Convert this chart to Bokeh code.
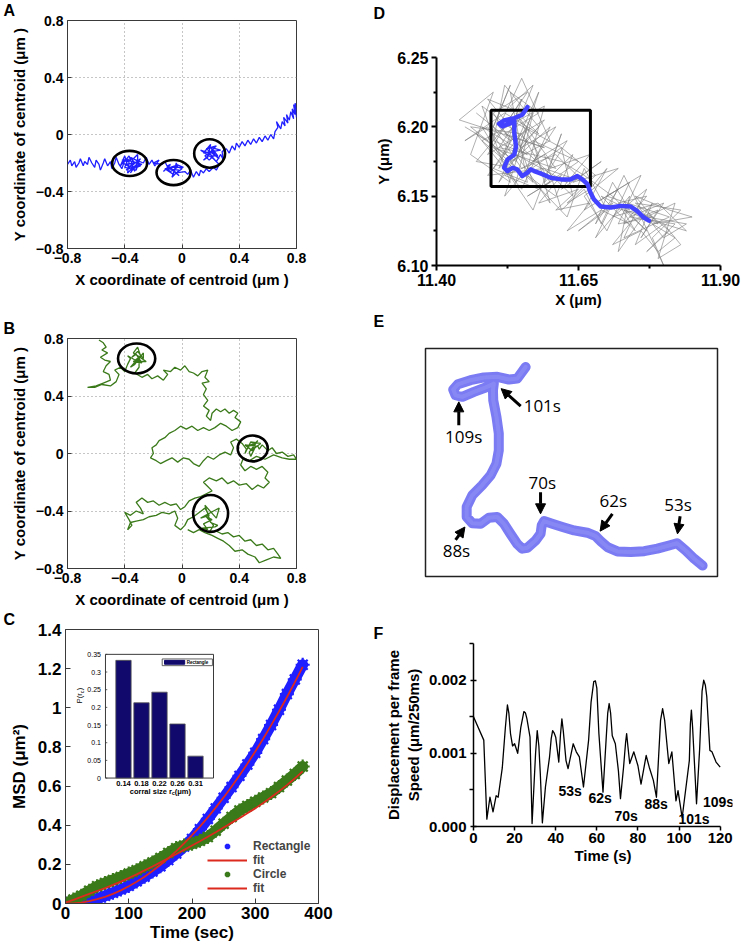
import math
from bokeh.plotting import figure
from bokeh.layouts import row, column
from bokeh.models import (Range1d, FixedTicker, Title, LabelSet, ColumnDataSource,
                          Legend, LegendItem, Arrow, NormalHead, NumeralTickFormatter)
from bokeh.core.properties import value
from bokeh.embed import file_html
from bokeh.resources import INLINE

FONT = "Liberation Sans"

# ---------------- data ----------------
AB_ticks = [-0.8, -0.4, 0.0, 0.4, 0.8]
AB_tick_labels = {-0.8: "\u22120.8", -0.4: "\u22120.4", 0.0: "0", 0.4: "0.4", 0.8: "0.8"}

A_path = [(-0.80,-0.21),(-0.78,-0.18),(-0.77,-0.22),(-0.75,-0.19),(-0.74,-0.23),(-0.72,-0.20),(-0.71,-0.17),
          (-0.69,-0.22),(-0.68,-0.19),(-0.66,-0.21),(-0.65,-0.16),(-0.63,-0.20),(-0.61,-0.23),(-0.60,-0.18),
          (-0.58,-0.21),(-0.57,-0.25),(-0.55,-0.20),(-0.54,-0.17),(-0.52,-0.22),(-0.50,-0.19),(-0.49,-0.24),
          (-0.47,-0.20),(-0.46,-0.16),(-0.44,-0.21),
          (-0.42,-0.24),(-0.40,-0.18),(-0.43,-0.22),(-0.40,-0.15),(-0.38,-0.22),(-0.41,-0.20),(-0.37,-0.15),
          (-0.33,-0.26),(-0.35,-0.21),(-0.39,-0.25),(-0.29,-0.17),(-0.36,-0.27),(-0.33,-0.22),(-0.38,-0.27),
          (-0.37,-0.19),(-0.42,-0.18),(-0.34,-0.17),(-0.31,-0.14),(-0.31,-0.20),(-0.35,-0.25),(-0.35,-0.23),
          (-0.28,-0.21),(-0.38,-0.18),(-0.40,-0.23),(-0.32,-0.25),(-0.30,-0.19),(-0.36,-0.16),(-0.33,-0.20),
          (-0.39,-0.21),(-0.34,-0.24),(-0.29,-0.22),(-0.32,-0.18),
          (-0.27,-0.20),(-0.25,-0.16),(-0.23,-0.21),(-0.21,-0.18),(-0.19,-0.22),(-0.16,-0.18),(-0.20,-0.20),
          (-0.14,-0.21),(-0.12,-0.19),(-0.10,-0.23),
          (-0.13,-0.26),(-0.08,-0.21),(-0.10,-0.22),(-0.06,-0.25),(-0.02,-0.29),(-0.09,-0.23),(0.01,-0.23),
          (-0.04,-0.21),(-0.07,-0.30),(-0.02,-0.25),(-0.12,-0.24),(-0.06,-0.28),(-0.04,-0.20),(-0.03,-0.23),
          (-0.08,-0.26),(-0.11,-0.24),(-0.05,-0.22),(0.00,-0.24),(-0.04,-0.27),(0.02,-0.26),
          (0.04,-0.28),(0.06,-0.25),(0.08,-0.30),(0.10,-0.26),(0.12,-0.29),(0.13,-0.25),(0.15,-0.27),
          (0.17,-0.24),(0.19,-0.26),(0.22,-0.23),(0.24,-0.25),(0.26,-0.21),
          (0.22,-0.17),(0.13,-0.11),(0.19,-0.13),(0.24,-0.08),(0.17,-0.10),(0.26,-0.17),(0.21,-0.12),
          (0.15,-0.18),(0.18,-0.16),(0.20,-0.07),(0.15,-0.13),(0.27,-0.11),(0.20,-0.09),(0.23,-0.14),
          (0.19,-0.18),(0.16,-0.15),(0.22,-0.11),(0.25,-0.15),(0.21,-0.15),(0.18,-0.12),
          (0.24,-0.19),(0.27,-0.14),(0.29,-0.18),(0.28,-0.12),
          (0.31,-0.10),(0.33,-0.13),(0.35,-0.08),(0.37,-0.11),(0.38,-0.06),(0.40,-0.09),(0.42,-0.05),
          (0.44,-0.08),(0.46,-0.04),(0.48,-0.07),(0.50,-0.03),(0.52,-0.06),(0.54,-0.02),(0.56,-0.05),
          (0.58,-0.01),(0.60,-0.04),(0.62,0.00),(0.64,-0.03),(0.65,0.02),
          (0.67,0.05),(0.66,0.09),(0.69,0.04),(0.70,0.09),(0.72,0.06),(0.71,0.12),(0.74,0.08),(0.73,0.14),
          (0.75,0.10),(0.76,0.16),(0.78,0.11),(0.77,0.18),(0.79,0.14),(0.78,0.21),(0.80,0.17),(0.79,0.22),
          (0.80,0.12)]
A_circ_x = [-0.366, -0.059, 0.193]
A_circ_y = [-0.203, -0.267, -0.133]
A_circ_w = [0.244, 0.238, 0.216]
A_circ_h = [0.176, 0.176, 0.200]

B_path = [(-0.58,0.79),(-0.55,0.77),(-0.53,0.74),(-0.56,0.72),(-0.52,0.70),(-0.57,0.67),(-0.54,0.65),
          (-0.50,0.64),(-0.53,0.61),(-0.55,0.57),(-0.51,0.55),(-0.50,0.51),(-0.55,0.49),(-0.60,0.47),
          (-0.66,0.46),(-0.61,0.46),(-0.56,0.48),(-0.50,0.47),(-0.46,0.50),(-0.44,0.55),(-0.47,0.58),
          (-0.43,0.60),(-0.40,0.57),(-0.38,0.62),(-0.36,0.66),(-0.38,0.68),(-0.31,0.64),(-0.25,0.64),
          (-0.34,0.70),(-0.31,0.74),(-0.29,0.68),(-0.36,0.60),(-0.33,0.62),(-0.27,0.70),(-0.27,0.66),
          (-0.31,0.71),(-0.35,0.67),(-0.32,0.69),(-0.28,0.63),(-0.34,0.64),
          (-0.30,0.67),(-0.30,0.60),(-0.33,0.56),(-0.28,0.53),
          (-0.24,0.55),(-0.21,0.52),(-0.17,0.54),(-0.13,0.51),(-0.10,0.55),(-0.13,0.58),(-0.08,0.57),
          (-0.05,0.60),(-0.01,0.58),(0.02,0.61),(0.05,0.57),(0.08,0.56),(0.11,0.54),(0.14,0.57),
          (0.18,0.58),(0.16,0.53),(0.19,0.50),(0.14,0.49),(0.17,0.45),(0.15,0.41),(0.18,0.37),
          (0.15,0.33),(0.19,0.30),(0.17,0.26),(0.20,0.23),(0.21,0.28),(0.24,0.31),(0.27,0.29),
          (0.30,0.31),(0.33,0.28),(0.36,0.30),(0.39,0.28),(0.37,0.25),(0.41,0.22),(0.39,0.18),
          (0.35,0.16),(0.31,0.19),(0.27,0.21),(0.23,0.18),(0.19,0.16),(0.15,0.18),(0.11,0.16),
          (0.07,0.19),(0.03,0.17),(-0.01,0.19),(-0.05,0.16),(-0.09,0.14),(-0.12,0.11),(-0.16,0.09),
          (-0.18,0.06),(-0.21,0.04),(-0.20,0.00),(-0.22,-0.03),(-0.18,-0.05),(-0.15,-0.07),(-0.11,-0.05),
          (-0.07,-0.03),(-0.03,-0.06),(0.01,-0.03),(0.05,-0.04),(0.08,-0.07),(0.12,-0.09),(0.15,-0.05),
          (0.18,-0.02),(0.22,-0.04),(0.26,-0.01),(0.30,0.01),(0.34,-0.01),(0.36,0.04),(0.34,0.08),
          (0.38,0.10),(0.42,0.07),(0.45,0.03),(0.44,0.00),(0.48,0.08),(0.55,0.07),(0.51,0.04),
          (0.48,-0.02),(0.47,0.01),(0.53,0.09),(0.50,0.06),
          (0.46,0.05),(0.52,0.08),(0.49,0.02),(0.44,0.06),(0.53,0.05),
          (0.54,0.03),(0.56,0.06),(0.60,0.02),(0.63,0.04),(0.66,0.00),(0.70,0.01),(0.74,-0.02),
          (0.78,-0.01),(0.80,-0.04),(0.75,-0.04),(0.70,-0.03),(0.64,-0.01),(0.58,-0.04),(0.52,-0.02),
          (0.47,-0.05),(0.43,-0.03),(0.41,-0.08),(0.44,-0.12),(0.48,-0.09),(0.52,-0.11),(0.56,-0.09),
          (0.60,-0.13),(0.58,-0.17),(0.61,-0.20),(0.57,-0.24),(0.53,-0.22),(0.49,-0.25),(0.45,-0.21),
          (0.40,-0.22),(0.36,-0.19),(0.32,-0.21),(0.28,-0.17),(0.24,-0.19),(0.19,-0.17),(0.15,-0.20),
          (0.18,-0.23),(0.21,-0.26),(0.17,-0.28),(0.13,-0.30),(0.09,-0.31),(0.05,-0.33),(0.02,-0.37),
          (-0.01,-0.39),(-0.04,-0.35),(-0.08,-0.36),(-0.12,-0.34),(-0.16,-0.36),(-0.20,-0.33),(-0.24,-0.34),
          (-0.28,-0.31),(-0.32,-0.34),(-0.29,-0.38),(-0.27,-0.42),(-0.32,-0.40),(-0.36,-0.43),(-0.40,-0.41),
          (-0.37,-0.46),(-0.35,-0.50),(-0.38,-0.53),(-0.36,-0.48),(-0.32,-0.47),(-0.27,-0.46),(-0.23,-0.44),
          (-0.18,-0.43),(-0.14,-0.41),(-0.09,-0.42),(-0.05,-0.40),(-0.03,-0.45),(-0.05,-0.50),(-0.01,-0.53),
          (0.02,-0.50),(0.04,-0.46),(0.08,-0.44),(0.12,-0.41),(0.16,-0.38),(0.19,-0.43),(0.13,-0.45),
          (0.22,-0.40),(0.26,-0.38),(0.24,-0.45),(0.16,-0.36),(0.20,-0.48),(0.25,-0.50),(0.23,-0.51),
          (0.14,-0.52),(0.18,-0.53),(0.15,-0.49),(0.21,-0.46),(0.17,-0.44),
          (0.22,-0.50),(0.19,-0.55),(0.24,-0.54),
          (0.28,-0.56),(0.32,-0.55),(0.36,-0.58),(0.40,-0.57),(0.44,-0.61),(0.48,-0.60),(0.52,-0.64),
          (0.56,-0.63),(0.60,-0.67),(0.64,-0.66),(0.67,-0.70),(0.69,-0.73),(0.64,-0.72),(0.59,-0.74),
          (0.54,-0.76),(0.51,-0.72),(0.46,-0.70),(0.42,-0.67),(0.37,-0.68),(0.33,-0.64),(0.29,-0.61),
          (0.25,-0.59),(0.21,-0.57),(0.16,-0.55),(0.12,-0.53),(0.08,-0.55),(0.04,-0.53)]
B_circ_x = [-0.317, 0.494, 0.200]
B_circ_y = [0.661, 0.035, -0.417]
B_circ_w = [0.26, 0.21, 0.244]
B_circ_h = [0.208, 0.18, 0.256]

C_t = [0, 12.5, 25, 37.5, 50, 62.5, 75, 87.5, 100, 112.5, 125, 137.5, 150, 162.5, 175, 187.5, 200,
       212.5, 225, 237.5, 250, 262.5, 275, 287.5, 300, 312.5, 325, 337.5, 350, 362.5, 375]
C_rect = [0.000, 0.002, 0.007, 0.015, 0.025, 0.039, 0.055, 0.072, 0.090, 0.113, 0.137, 0.163, 0.190,
          0.222, 0.255, 0.291, 0.330, 0.380, 0.432, 0.486, 0.540, 0.595, 0.652, 0.710, 0.770, 0.840,
          0.912, 0.990, 1.070, 1.145, 1.220]
C_rect_fit = [0.000, 0.001, 0.005, 0.012, 0.022, 0.034, 0.049, 0.067, 0.088, 0.111, 0.137, 0.166,
              0.197, 0.231, 0.268, 0.307, 0.349, 0.393, 0.440, 0.490, 0.542, 0.597, 0.654, 0.714,
              0.777, 0.842, 0.910, 0.981, 1.054, 1.130, 1.209]
C_circ = [0.000, 0.020, 0.040, 0.065, 0.088, 0.105, 0.120, 0.136, 0.153, 0.170, 0.190, 0.210, 0.232,
          0.258, 0.283, 0.296, 0.305, 0.320, 0.340, 0.372, 0.408, 0.442, 0.475, 0.498, 0.520, 0.542,
          0.564, 0.595, 0.628, 0.662, 0.700]
C_circ_fit = [0.005, 0.019, 0.034, 0.049, 0.064, 0.079, 0.095, 0.112, 0.130, 0.149, 0.169, 0.189,
              0.210, 0.231, 0.252, 0.274, 0.296, 0.318, 0.341, 0.364, 0.388, 0.412, 0.436, 0.461,
              0.486, 0.514, 0.543, 0.573, 0.605, 0.639, 0.675]
C_xticks = [0, 100, 200, 300, 400]
C_yticks = [0, 0.2, 0.4, 0.6, 0.8, 1.0, 1.2, 1.4]
C_ytick_labels = ["0", "0.2", "0.4", "0.6", "0.8", "1", "1.2", "1.4"]

inset_cats = ["0.14", "0.18", "0.22", "0.26", "0.31"]
inset_vals = [0.333, 0.213, 0.243, 0.153, 0.062]
inset_yticks = [0, 0.05, 0.1, 0.15, 0.2, 0.25, 0.3, 0.35]
inset_ytick_labels = ["0", "0.05", "0.1", "0.15", "0.2", "0.25", "0.3", "0.35"]

D_xticks = [11.40, 11.65, 11.90]
D_xminor = [11.525, 11.775]
D_yticks = [6.10, 6.15, 6.20, 6.25]
D_yminor = [6.125, 6.175, 6.225]
D_gray = [(11.47,6.21),(11.53,6.19),(11.49,6.18),(11.55,6.22),(11.51,6.17),(11.58,6.20),(11.52,6.23),
          (11.50,6.19),(11.56,6.18),(11.48,6.20),(11.54,6.16),(11.57,6.21),(11.53,6.175),(11.60,6.19),
          (11.55,6.235),(11.51,6.20),(11.59,6.17),(11.49,6.165),(11.56,6.20),(11.52,6.15),(11.58,6.18),
          (11.54,6.21),(11.61,6.17),(11.50,6.185),(11.57,6.16),(11.53,6.205),(11.62,6.185),(11.55,6.165),
          (11.48,6.19),(11.59,6.215),(11.56,6.17),(11.63,6.16),(11.54,6.18),(11.60,6.145),(11.57,6.19),
          (11.65,6.175),(11.58,6.155),(11.52,6.165),(11.61,6.18),(11.66,6.16),(11.59,6.17),(11.64,6.15),
          (11.62,6.185),(11.68,6.165),(11.63,6.145),(11.67,6.155),(11.70,6.17),(11.66,6.14),(11.72,6.155),
          (11.68,6.13),(11.71,6.16),(11.74,6.14),(11.69,6.15),(11.75,6.125),(11.72,6.145),(11.77,6.15),
          (11.73,6.13),(11.79,6.14),(11.76,6.12),(11.80,6.145),(11.74,6.135),(11.82,6.13),(11.77,6.11),
          (11.81,6.125),(11.75,6.145),(11.83,6.14),(11.78,6.12),(11.80,6.10),(11.76,6.135),(11.84,6.125),
          (11.79,6.145),(11.71,6.135),(11.77,6.155),(11.73,6.12),(11.81,6.135),(11.70,6.15),(11.76,6.165),
          (11.72,6.13),(11.78,6.135),(11.68,6.145),(11.74,6.16),(11.70,6.125),(11.66,6.15),(11.72,6.17),
          (11.64,6.16),(11.69,6.175),(11.62,6.155),(11.67,6.18),(11.60,6.17),(11.63,6.19),(11.57,6.175),
          (11.61,6.20),(11.55,6.185),(11.59,6.205),(11.53,6.19),(11.50,6.21),(11.56,6.225),(11.51,6.195),
          (11.47,6.175),(11.54,6.17),(11.49,6.20),(11.45,6.19),(11.52,6.21),(11.58,6.195),(11.53,6.215),
          (11.57,6.23),(11.52,6.18),(11.46,6.20),(11.55,6.195),(11.60,6.16),(11.56,6.15),(11.62,6.165),
          (11.58,6.145),(11.65,6.155),(11.61,6.14),(11.67,6.145),(11.63,6.125),(11.69,6.14),(11.74,6.13),
          (11.71,6.115),(11.76,6.125),(11.79,6.11),(11.82,6.12),(11.78,6.13),(11.85,6.135),(11.81,6.14),
          (11.75,6.15),(11.79,6.13),(11.73,6.14),(11.77,6.125),(11.71,6.15),(11.66,6.165),(11.62,6.175),
          (11.57,6.18),(11.51,6.185),(11.55,6.21),(11.49,6.22),(11.54,6.195),(11.50,6.17),(11.56,6.16),
          (11.53,6.225),(11.58,6.21),(11.52,6.195),(11.59,6.185),
          (11.44,6.205),(11.50,6.225),(11.46,6.18),(11.53,6.16),(11.48,6.215),(11.56,6.19),(11.51,6.16),
          (11.58,6.225),(11.54,6.175),(11.47,6.195),(11.55,6.155),(11.60,6.20),(11.52,6.17),(11.57,6.14),
          (11.62,6.195),(11.59,6.16),(11.64,6.18),(11.61,6.15),(11.56,6.165),(11.63,6.135),(11.66,6.17),
          (11.70,6.14),(11.65,6.125),(11.71,6.145),(11.68,6.12),(11.74,6.15),(11.72,6.11),(11.78,6.145),
          (11.75,6.115),(11.80,6.13),(11.83,6.115),(11.79,6.105),(11.82,6.145),(11.77,6.135),(11.84,6.13),
          (11.80,6.12),(11.76,6.14),(11.73,6.165),(11.69,6.13),(11.66,6.155),(11.62,6.14),(11.59,6.18),
          (11.55,6.17),(11.50,6.20),(11.53,6.23),(11.49,6.19),(11.45,6.20)]
D_blue = [(11.560,6.2142),(11.551,6.2087),(11.537,6.2063),(11.519,6.2046),(11.510,6.2022),(11.516,6.2003),
          (11.531,6.2027),(11.537,6.2040),(11.537,6.1955),(11.540,6.1860),(11.537,6.1800),(11.525,6.1764),
          (11.519,6.1705),(11.525,6.1680),(11.534,6.1705),(11.542,6.1693),(11.551,6.1645),(11.560,6.1669),
          (11.566,6.1693),(11.572,6.1681),(11.583,6.1664),(11.601,6.1633),(11.619,6.1621),(11.636,6.1621),
          (11.648,6.1645),(11.657,6.1621),(11.666,6.1585),(11.671,6.1526),(11.677,6.1478),(11.689,6.1425),
          (11.707,6.1418),(11.724,6.1430),(11.742,6.1425),(11.753,6.1394),(11.765,6.1346),(11.774,6.1323)]
D_box_x = [11.496, 11.671]
D_box_y = [6.157, 6.212]

E_path = [(94.9,4.8),(92.0,7.8),(89.1,11.4),(86.1,14.6),(83.4,13.6),(79.4,12.2),(74.9,11.1),(70.3,10.7),
          (65.7,11.0),(62.3,12.9),(60.0,15.5),(58.3,17.7),(55.4,19.2),(50.9,20.2),(46.9,21.7),(43.4,23.1),
          (40.6,24.3),(39.8,22.4),(39.4,18.7),(37.7,15.8),(34.9,12.6),(33.1,12.2),(31.4,14.3),(29.1,18.7),
          (26.9,23.1),(24.6,26.1),(21.7,25.8),(18.9,23.1),(16.0,23.4),(14.1,26.1),(14.1,30.5),(16.0,35.6),
          (19.4,40.0),(22.3,44.4),(24.3,49.5),(25.1,55.3),(25.1,62.7),(24.3,70.0),(23.2,77.3),(23.1,81.7),
          (23.4,84.6),(20.6,82.9),(16.6,81.0),(12.6,78.8),(10.3,79.5),(9.5,82.0),(11.1,84.3),(15.4,86.1),
          (20.0,87.3),(24.6,87.6),(28.6,86.4),(31.4,86.8),(34.3,91.9)]
E_labels = ["109s", "101s", "70s", "62s", "53s", "88s"]
E_lab_x = [13.1, 40.0, 40.0, 64.3, 86.5, 10.6]
E_lab_y = [61.2, 75.1, 41.4, 33.4, 31.6, 11.4]
E_arrow_x0 = [11.4, 32.6, 39.4, 64.0, 87.2, 10.3]
E_arrow_y0 = [66.3, 74.7, 37.0, 27.5, 26.4, 16.1]
E_arrow_x1 = [11.4, 25.9, 39.4, 59.8, 86.3, 13.5]
E_arrow_y1 = [76.6, 82.4, 27.5, 19.9, 18.7, 21.7]

F_t = [0, 5, 5.8, 6.5, 8, 9.5, 11, 12, 14, 15.5, 16.5, 17.2, 18, 19, 20, 21.5, 23, 24.5, 25.3, 26,
       27.5, 28.5, 30.2, 31, 31.8, 32.5, 33.5, 35, 37, 37.8, 38.5, 39.2, 40, 41.5, 42.3, 43, 43.7, 45,
       46, 48.5, 50, 51.5, 53.5, 56, 57.2, 58.5, 59.3, 60, 61, 63, 64.5, 65.3, 66, 66.7, 67.5, 69,
       70.5, 71.5, 73, 74, 74.5, 75.1, 76, 78, 80, 81.5, 84, 85.5, 87.5, 89, 91, 92, 93, 95, 96.5,
       98.5, 99.5, 101.5, 105, 105.5, 106, 106.6, 107.5, 108.5, 110, 111.2, 112, 112.8, 113.5, 115,
       116, 118, 120]
F_speed_milli = [1.50, 1.18, 0.60, 0.10, 0.40, 0.20, 0.42, 0.40, 0.80, 1.35, 1.66, 1.55, 1.27, 1.10,
                 1.13, 1.00, 1.35, 1.57, 1.55, 1.47, 1.22, 0.04, 1.00, 1.31, 1.10, 0.72, 0.05, 0.54,
                 0.95, 1.20, 1.31, 1.28, 1.22, 0.88, 1.25, 1.47, 1.30, 0.90, 0.79, 1.13, 1.02, 0.95,
                 0.54, 1.18, 1.70, 1.98, 1.99, 1.89, 1.27, 0.47, 1.18, 1.55, 1.68, 1.55, 1.24, 1.13,
                 0.76, 0.38, 0.81, 1.15, 1.27, 1.10, 0.86, 1.02, 0.83, 0.58, 0.97, 0.81, 0.63, 0.40,
                 1.45, 1.61, 1.45, 0.86, 1.02, 0.35, 0.49, 0.12, 0.90, 1.40, 1.59, 1.35, 0.86, 0.31,
                 1.05, 1.85, 2.00, 1.93, 1.77, 1.04, 1.02, 0.88, 0.81]
F_labels = ["53s", "62s", "70s", "88s", "101s", "109s"]
F_lab_t = [47.0, 61.6, 74.3, 88.9, 107.3, 119.2]
F_lab_milli = [0.49, 0.39, 0.15, 0.31, 0.10, 0.34]
F_xticks = [0, 20, 40, 60, 80, 100, 120]
F_yticks = [0.0, 0.001, 0.002]
F_yminor = [0.0005, 0.0015, 0.0025]

BLUE = "#1f1fff"
GREEN = "#3b7a1a"
RED = "#dc2a1e"
NAVY = "#110a6c"


# ---------------- helpers ----------------
def base_fig(w, h, xr, yr, ml, mt, mr, mb, **kw):
    p = figure(width=w, height=h, x_range=Range1d(*xr), y_range=Range1d(*yr),
               min_border_left=ml, min_border_top=mt, min_border_right=mr, min_border_bottom=mb,
               output_backend="svg", toolbar_location=None, **kw)
    p.background_fill_color = "white"
    p.border_fill_color = "white"
    return p


def style_axis(ax, tick_size, label_size, t_in=0, t_out=0, m_in=0, m_out=0, lw=1, color="black",
               ls=4, als=4):
    ax.major_label_text_font = FONT
    ax.major_label_text_font_style = "bold"
    ax.major_label_text_font_size = f"{tick_size}px"
    ax.major_label_text_color = "black"
    ax.axis_label_text_font = FONT
    ax.axis_label_text_font_style = "bold"
    ax.axis_label_text_font_size = f"{label_size}px"
    ax.axis_label_text_color = "black"
    ax.major_tick_in = t_in
    ax.major_tick_out = t_out
    ax.minor_tick_in = m_in
    ax.minor_tick_out = m_out
    ax.axis_line_color = color
    ax.major_tick_line_color = color
    ax.minor_tick_line_color = color
    ax.axis_line_width = lw
    ax.major_tick_line_width = lw
    ax.minor_tick_line_width = lw
    ax.major_label_standoff = ls
    ax.axis_label_standoff = als


def letter(p, t, offset):
    # panel letter; extra blank lines lift it above the frame where the reference has a gap
    p.add_layout(Title(text=t, align="left", offset=offset, vertical_align="top", standoff=0,
                       text_font=FONT, text_font_style="bold", text_font_size="16px",
                       text_color="black"), "above")


def traj_fig(path, color, cx, cy, cw, ch, h, mt, mb, let):
    p = base_fig(370, h, (-0.8, 0.8), (-0.8, 0.8), 67, mt, 74, mb)
    for ax, grid in ((p.xaxis[0], p.xgrid[0]), (p.yaxis[0], p.ygrid[0])):
        tk = FixedTicker(ticks=AB_ticks)
        ax.ticker = tk
        grid.ticker = tk
        ax.major_label_overrides = AB_tick_labels
        style_axis(ax, 14, 15, t_in=4, t_out=0, color="#3a3a3a", ls=4, als=5)
    p.xaxis.axis_label = "X coordinate of centroid (\u03bcm )"
    p.yaxis.axis_label = "Y coordinate of centroid (\u03bcm )"
    p.grid.grid_line_color = "#8c8c8c"
    p.grid.grid_line_dash = "1 3"
    p.grid.grid_line_width = 1
    p.outline_line_color = "#3a3a3a"
    p.line([q[0] for q in path], [q[1] for q in path], color=color, line_width=1.3)
    p.ellipse(x=cx, y=cy, width=cw, height=ch, fill_alpha=0, line_color="black", line_width=2.6)
    letter(p, let, -64)
    return p


# ---------------- A / B ----------------
pa = traj_fig(A_path, BLUE, A_circ_x, A_circ_y, A_circ_w, A_circ_h, 310, 20, 62, "A")
pb = traj_fig(B_path, GREEN, B_circ_x, B_circ_y, B_circ_w, B_circ_h, 300, 28, 42, "B")

# ---------------- C ----------------
pc = base_fig(370, 338, (0, 400), (0, 1.4), 65, 18, 52, 45)
pc.grid.visible = False
pc.outline_line_color = "#3a3a3a"
pc.xaxis.ticker = FixedTicker(ticks=C_xticks)
pc.yaxis.ticker = FixedTicker(ticks=C_yticks)
pc.yaxis.major_label_overrides = dict(zip(C_yticks, C_ytick_labels))
style_axis(pc.xaxis[0], 17, 17, t_in=5, color="#3a3a3a", ls=3, als=1)
style_axis(pc.yaxis[0], 17, 17, t_in=5, color="#3a3a3a", ls=4, als=6)
pc.xaxis.axis_label = "Time (sec)"
pc.yaxis.axis_label = "MSD (\u03bcm\u00b2)"

pc.line(C_t, C_rect, color=BLUE, line_width=11, line_cap="round")
r_rect = pc.scatter(C_t, C_rect, marker="asterisk", size=14, line_width=2.2, color=BLUE)
pc.line(C_t, C_circ, color=GREEN, line_width=11, line_cap="round")
r_circ = pc.scatter(C_t, C_circ, marker="asterisk", size=14, line_width=2.2, color=GREEN)
r_rfit = pc.line(C_t, C_rect_fit, color=RED, line_width=1.8)
r_cfit = pc.line(C_t, C_circ_fit, color=RED, line_width=1.8)

leg = Legend(items=[LegendItem(label="Rectangle", renderers=[r_rect]),
                    LegendItem(label="fit", renderers=[r_rfit]),
                    LegendItem(label="Circle", renderers=[r_circ]),
                    LegendItem(label="fit", renderers=[r_cfit])],
             location=(142, 8), border_line_alpha=0, background_fill_alpha=0,
             label_text_font=FONT, label_text_font_style="bold", label_text_font_size="12px",
             glyph_width=40, glyph_height=14, label_height=14, spacing=0, padding=0, margin=0,
             label_standoff=6)
pc.add_layout(leg)

# inset (sub-coordinates inside panel C)
ins = pc.subplot(x_source=Range1d(0, 6), y_source=Range1d(0, 0.35),
                 x_target=Range1d(63.2, 234.0), y_target=Range1d(0.641, 1.273))
ins.quad(left=[0], right=[6], bottom=[0], top=[0.35], fill_color="white", line_color="#3a3a3a",
         line_width=1)
inset_pos = list(range(1, len(inset_cats) + 1))
ins.vbar(x=inset_pos, top=inset_vals, width=0.85, fill_color=NAVY, line_color="#555555",
         line_width=0.8)
ins.segment(x0=[0] * len(inset_yticks), x1=[0.1] * len(inset_yticks), y0=inset_yticks,
            y1=inset_yticks, line_color="#3a3a3a", line_width=0.8)
ins.text(x=[-0.25] * len(inset_yticks), y=inset_yticks, text=inset_ytick_labels, text_align="right",
         text_baseline="middle", text_font=value(FONT), text_font_size="7px", text_color="black")
ins.text(x=inset_pos, y=[-0.007] * len(inset_pos), text=inset_cats, text_align="center",
         text_baseline="top", text_font=value(FONT), text_font_style="bold",
         text_font_size="7.5px", text_color="black")
ins.text(x=[1.35, 1.35, 1.35], y=[-0.024, -0.024, -0.024], text=["corral size r", "c", "(\u03bcm)"],
         x_offset=[0, 42, 45], y_offset=[0, 3, 0], text_align="left", text_baseline="top",
         text_font=value(FONT), text_font_style="bold", text_font_size=["7.5px", "5.5px", "7.5px"],
         text_color="black")
ins.text(x=[-1.45, -1.45, -1.45], y=[0.234, 0.234, 0.234], text=["P(r", "c", ")"],
         x_offset=[0, 3, 0], y_offset=[8, -2, -5], angle=math.pi / 2, text_align="left",
         text_baseline="middle", text_font=value(FONT), text_font_size=["7.5px", "5.5px", "7.5px"],
         text_color="black")
ins.quad(left=[3.15], right=[5.94], bottom=[0.318], top=[0.337], fill_color="white",
         line_color="#3a3a3a", line_width=0.8)
ins.quad(left=[3.28], right=[4.40], bottom=[0.322], top=[0.333], fill_color=NAVY, line_color=NAVY)
ins.text(x=[4.52], y=[0.3275], text=["Rectangle"], text_align="left", text_baseline="middle",
         text_font=value(FONT), text_font_style="bold", text_font_size="4.5px", text_color="black")
letter(pc, "C", -62)

# ---------------- D ----------------
pd_ = base_fig(371, 310, (11.40, 11.90), (6.10, 6.25), 66, 57, 21, 43)
pd_.grid.visible = False
pd_.outline_line_color = None
pd_.xaxis.ticker = FixedTicker(ticks=D_xticks, minor_ticks=D_xminor)
pd_.yaxis.ticker = FixedTicker(ticks=D_yticks, minor_ticks=D_yminor)
pd_.xaxis.formatter = NumeralTickFormatter(format="0.00")
pd_.yaxis.formatter = NumeralTickFormatter(format="0.00")
style_axis(pd_.xaxis[0], 16, 15, t_out=5, m_out=3, lw=2, ls=3, als=2)
style_axis(pd_.yaxis[0], 16, 15, t_out=5, m_out=3, lw=2, ls=3, als=2)
pd_.xaxis.axis_label = "X (\u03bcm)"
pd_.yaxis.axis_label = "Y (\u03bcm)"
pd_.line([q[0] for q in D_gray], [q[1] for q in D_gray], color="#7a7a7a", line_width=0.6)
pd_.quad(left=[D_box_x[0]], right=[D_box_x[1]], bottom=[D_box_y[0]], top=[D_box_y[1]],
         fill_alpha=0, line_color="black", line_width=3)
pd_.line([q[0] for q in D_blue], [q[1] for q in D_blue], color="#4242ff", line_width=4.5,
         line_join="round", line_cap="round")
letter(pd_, "D\n \n ", -63)

# ---------------- E ----------------
pe = base_fig(371, 300, (0, 100), (0, 100), 55, 38, 24, 34, x_axis_location=None,
              y_axis_location=None)
pe.grid.visible = False
pe.outline_line_color = "#222222"
pe.outline_line_width = 1.5
ex = [q[0] for q in E_path]
ey = [q[1] for q in E_path]
pe.line(ex, ey, color="#4848ee", alpha=0.72, line_width=10, line_join="round", line_cap="round")
pe.line(ex, ey, color="#9494f6", alpha=0.55, line_width=4, line_join="round", line_cap="round")
asrc = ColumnDataSource(dict(x0=E_arrow_x0, y0=E_arrow_y0, x1=E_arrow_x1, y1=E_arrow_y1))
pe.add_layout(Arrow(end=NormalHead(size=10, fill_color="black", line_color="black"),
                    x_start="x0", y_start="y0", x_end="x1", y_end="y1", source=asrc,
                    line_width=3, line_color="black"))
pe.text(x=E_lab_x, y=E_lab_y, text=E_labels, text_align="center", text_baseline="middle",
        text_font=value("Open Sans"), text_font_size="17px", text_color="black")
letter(pe, "E\n ", -52)

# ---------------- F ----------------
pf = base_fig(371, 338, (0, 126), (0, 0.0025), 103, 33, 9, 122)
pf.grid.visible = False
pf.outline_line_color = None
pf.xaxis.ticker = FixedTicker(ticks=F_xticks)
pf.xaxis.bounds = (0, 120)
pf.yaxis.ticker = FixedTicker(ticks=F_yticks, minor_ticks=F_yminor)
pf.yaxis.formatter = NumeralTickFormatter(format="0.000")
style_axis(pf.xaxis[0], 15, 15, t_out=4, lw=1.5, ls=2, als=1)
style_axis(pf.yaxis[0], 15, 15, t_in=3, t_out=3, m_out=4, lw=1.5, ls=3, als=4)
pf.xaxis.axis_label = "Time (s)"
pf.yaxis.axis_label = "Displacement per frame\nSpeed (\u03bcm/250ms)"
pf.line(F_t, [v * 1e-3 for v in F_speed_milli], color="black", line_width=1.3, line_join="round")
fsrc = ColumnDataSource(dict(x=F_lab_t, y=[v * 1e-3 for v in F_lab_milli], t=F_labels))
pf.add_layout(LabelSet(x="x", y="y", text="t", source=fsrc, text_align="center",
                       text_baseline="middle", text_font=value(FONT), text_font_style="bold",
                       text_font_size="14px", text_color="black"))
letter(pf, "F", -100)

layout = row(column(row(pa), row(pb), row(pc)), column(row(pd_), row(pe), row(pf)))
open("out.html", "w").write(file_html(layout, INLINE))
